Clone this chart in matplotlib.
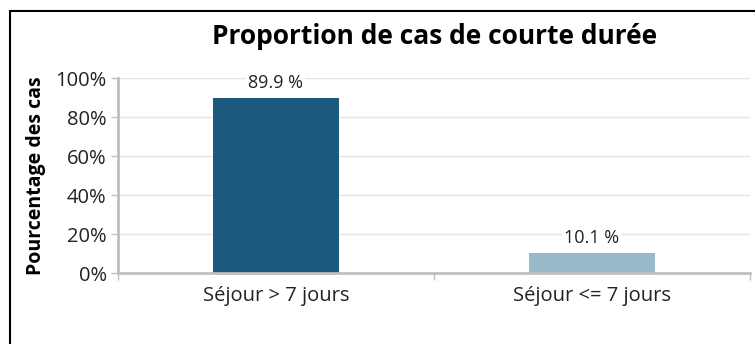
import matplotlib.pyplot as plt
from matplotlib.patches import Rectangle
from matplotlib.ticker import FuncFormatter, FixedLocator

categories = ["Séjour > 7 jours", "Séjour <= 7 jours"]
values = [89.9, 10.1]
colors = ["#1b5a7e", "#98b9ca"]
yticks = [0, 20, 40, 60, 80, 100]

plt.rcParams['font.family'] = ['Open Sans', 'DejaVu Sans']

fig = plt.figure(figsize=(7.55, 3.44), dpi=100)
ax = fig.add_axes([0.156, 0.206, 0.837, 0.567])

# frame around the whole chart
fig.patches.append(Rectangle((10 / 755, -0.1), 1.0, (344 - 11) / 344 + 0.1,
                             transform=fig.transFigure, fill=False,
                             edgecolor="black", linewidth=1.5))

x = range(len(categories))
ax.bar(x, values, width=0.4, color=colors, zorder=2)

for xi, v in zip(x, values):
    ax.annotate(f"{v} %", (xi, v), xytext=(0, 11), textcoords="offset points",
                ha="center", va="center", fontsize=13, color="#222222",
                bbox=dict(facecolor="white", edgecolor="none", pad=1.5), zorder=3)

ax.set_xlim(-0.5, 1.5)
ax.set_ylim(0, 100)
ax.set_yticks(yticks)
ax.yaxis.set_major_formatter(FuncFormatter(lambda v, p: f"{v:.0f}%"))
ax.grid(axis="y", color="#e3e3e3", linewidth=1, zorder=0)
ax.set_axisbelow(True)

ax.set_xticks(list(x))
ax.set_xticklabels(categories)
ax.xaxis.set_minor_locator(FixedLocator([-0.5, 0.5, 1.5]))
ax.tick_params(axis="x", which="major", length=0, pad=9, labelsize=14.5, labelcolor="#222222")
ax.tick_params(axis="x", which="minor", length=5, width=1, color="#bfbfbf")
ax.tick_params(axis="y", length=5, width=1, color="#bfbfbf", labelsize=14.5, labelcolor="#222222", pad=3)

for side in ["top", "right"]:
    ax.spines[side].set_visible(False)
for side in ["left", "bottom"]:
    ax.spines[side].set_color("#bfbfbf")
    ax.spines[side].set_linewidth(2)

ax.set_ylabel("Pourcentage des cas", fontsize=14, fontweight="bold")
ax.yaxis.set_label_coords(-0.114, 0.5)
fig.text(0.576, 0.895, "Proportion de cas de courte durée", ha="center", va="center",
         fontsize=19, fontweight="bold")

fig.savefig("out.png", dpi=100)
